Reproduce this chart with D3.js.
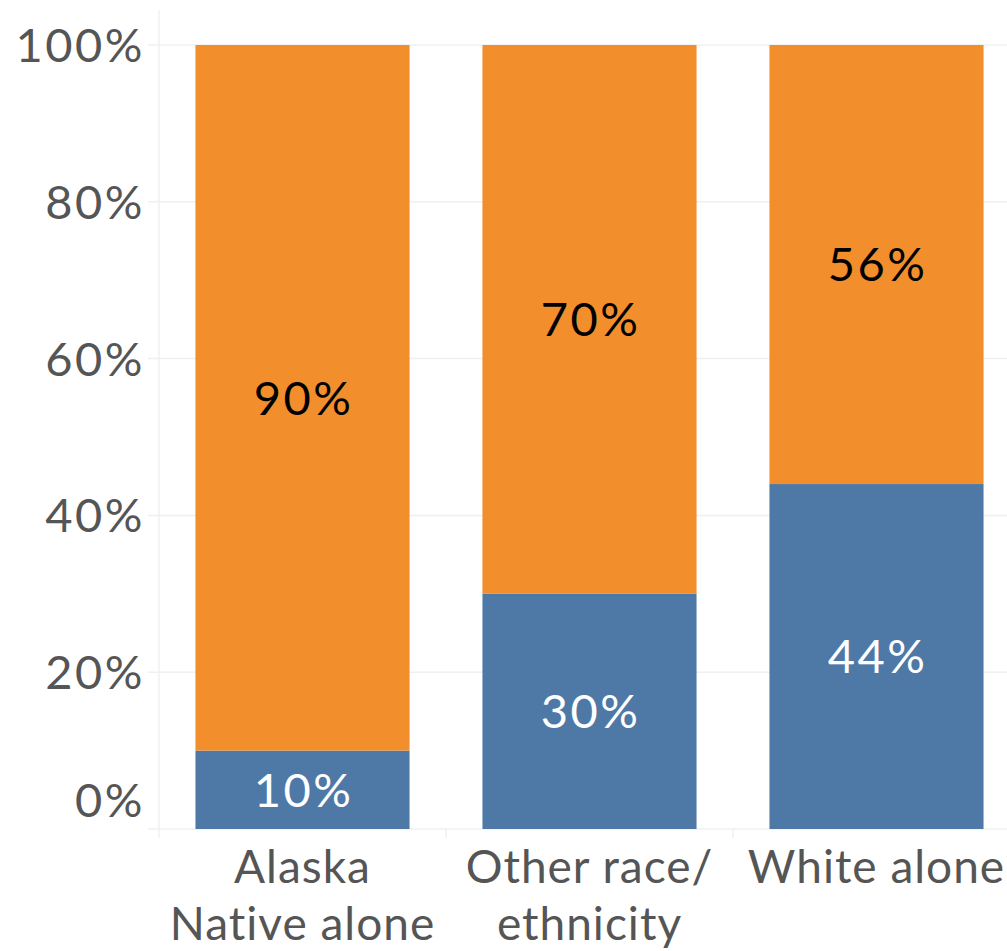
<!DOCTYPE html>
<head>
<meta charset="utf-8">
<script src="https://cdn.jsdelivr.net/npm/d3@7"></script>
<style>
  body { margin: 0; background: #fff; }
  text { font-family: Lato, "Open Sans", sans-serif; }
  .pct { font-size: 47px; letter-spacing: 2.5px; }
  .cat { font-size: 46px; letter-spacing: 1px; fill: #555; }
</style>
</head>
<body>
<script>
var width = 1007, height = 951;
var margin = {top: 45, left: 159, bottom: 122, right: 0};

// data
var categories = ["Alaska Native alone", "Other race/ ethnicity", "White alone"];
var catLines = [["Alaska", "Native alone"], ["Other race/", "ethnicity"], ["White alone"]];
var blueVals = [10, 30, 44];
var orangeVals = [90, 70, 56];
var yTicks = [0, 20, 40, 60, 80, 100];

var blue = "#4e79a7", orange = "#f28e2b";

var svg = d3.select("body").append("svg")
  .attr("width", width).attr("height", height);

var x = d3.scaleBand().domain(categories)
  .range([margin.left, margin.left + 287 * 3])
  .paddingInner(0.254).paddingOuter(0.127);
var y = d3.scaleLinear().domain([0, 100]).range([height - margin.bottom, margin.top]);

// gridlines
svg.selectAll(".grid").data(yTicks).enter().append("line")
  .attr("x1", 148).attr("x2", width)
  .attr("y1", function(d) { return y(d); }).attr("y2", function(d) { return y(d); })
  .style("stroke", "#f0f0f0").style("stroke-width", 1.5);

// vertical axis line and column dividers
svg.append("line").attr("x1", margin.left).attr("x2", margin.left)
  .attr("y1", 10).attr("y2", y(0) + 9).style("stroke", "#f0f0f0").style("stroke-width", 1.5);
svg.selectAll(".div").data(categories.slice(1)).enter().append("line")
  .attr("x1", function(d) { return x(d) - x.step() * x.paddingInner() / 2; })
  .attr("x2", function(d) { return x(d) - x.step() * x.paddingInner() / 2; })
  .attr("y1", y(0)).attr("y2", y(0) + 9)
  .style("stroke", "#f0f0f0").style("stroke-width", 1.5);

// y tick labels (bottom one nudged up so it stays above the baseline)
svg.selectAll(".ylab").data(yTicks).enter().append("text")
  .attr("class", "pct")
  .attr("x", 145).attr("y", function(d) { return d === 0 ? y(d) - 29 : y(d); })
  .attr("dy", "0.36em").attr("text-anchor", "end")
  .style("fill", "#555")
  .text(function(d) { return d + "%"; });

// bars
var g = svg.selectAll(".bar").data(categories).enter().append("g");
g.append("rect")
  .attr("x", function(d) { return x(d); })
  .attr("width", x.bandwidth())
  .attr("y", function(d, i) { return y(blueVals[i]); })
  .attr("height", function(d, i) { return y(0) - y(blueVals[i]); })
  .style("fill", blue);
g.append("rect")
  .attr("x", function(d) { return x(d); })
  .attr("width", x.bandwidth())
  .attr("y", function(d, i) { return y(blueVals[i] + orangeVals[i]); })
  .attr("height", function(d, i) { return y(blueVals[i]) - y(blueVals[i] + orangeVals[i]); })
  .style("fill", orange);

// value labels
g.append("text")
  .attr("class", "pct")
  .attr("x", function(d) { return x(d) + x.bandwidth() / 2 + 1; })
  .attr("y", function(d, i) { return y(blueVals[i] / 2); })
  .attr("dy", "0.36em").attr("text-anchor", "middle")
  .style("fill", "#fff")
  .text(function(d, i) { return blueVals[i] + "%"; });
g.append("text")
  .attr("class", "pct")
  .attr("x", function(d) { return x(d) + x.bandwidth() / 2 + 1; })
  .attr("y", function(d, i) { return y(blueVals[i] + orangeVals[i] / 2); })
  .attr("dy", "0.36em").attr("text-anchor", "middle")
  .style("fill", "#000")
  .text(function(d, i) { return orangeVals[i] + "%"; });

// category labels
g.each(function(d, i) {
  var t = d3.select(this).append("text")
    .attr("class", "cat")
    .attr("text-anchor", "middle");
  catLines[i].forEach(function(line, j) {
    t.append("tspan")
      .attr("x", x(d) + x.bandwidth() / 2)
      .attr("y", 883 + j * 57)
      .text(line);
  });
});
</script>
</body>
